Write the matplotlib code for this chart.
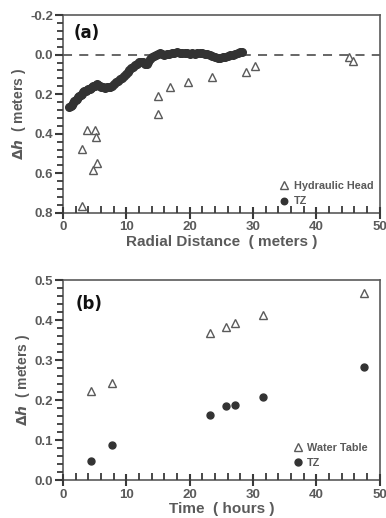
import matplotlib.pyplot as plt
from matplotlib.ticker import MultipleLocator

# panel (a): head change vs radial distance
hh_dist = [3.0, 3.8, 5.0, 5.2, 4.7, 5.3, 3.0, 15.0, 15.0, 16.9, 19.8, 23.5, 28.9, 30.3, 45.2, 45.8]
hh_dh = [0.476, 0.383, 0.383, 0.417, 0.585, 0.548, 0.766, 0.207, 0.300, 0.165, 0.136, 0.114, 0.090, 0.060, 0.010, 0.030]

tz_dist = [1.0, 1.2, 1.4, 1.6, 1.8, 2.0, 2.2, 2.4, 2.6, 2.8, 3.0, 3.2, 3.4, 3.6, 3.8, 4.0,
           4.2, 4.4, 4.6, 4.8, 5.0, 5.2, 5.4, 5.6, 5.8, 6.0, 6.3, 6.6, 6.9, 7.2, 7.5, 7.8,
           8.1, 8.4, 8.7, 9.0, 9.3, 9.6, 9.9, 10.2, 10.5, 10.8, 11.1, 11.4, 11.7, 12.0, 12.3,
           12.6, 12.9, 13.2, 13.5, 13.8, 14.1, 14.4, 14.7, 15.0, 15.3, 15.6, 16.0, 16.4, 16.8,
           17.2, 17.6, 18.0, 18.4, 18.8, 19.2, 19.6, 20.0, 20.4, 20.8, 21.2, 21.6, 22.0, 22.4,
           22.8, 23.2, 23.6, 24.0, 24.4, 24.8, 25.2, 25.6, 26.0, 26.4, 26.8, 27.2, 27.6, 28.0, 28.2]
tz_dh = [0.265, 0.260, 0.255, 0.245, 0.235, 0.228, 0.222, 0.215, 0.210, 0.205, 0.200, 0.190,
         0.185, 0.183, 0.178, 0.175, 0.172, 0.170, 0.165, 0.160, 0.158, 0.152, 0.150, 0.155,
         0.160, 0.163, 0.165, 0.168, 0.165, 0.165, 0.162, 0.158, 0.150, 0.140, 0.132, 0.125,
         0.118, 0.108, 0.100, 0.090, 0.080, 0.070, 0.062, 0.055, 0.045, 0.038, 0.035, 0.038,
         0.045, 0.048, 0.035, 0.020, 0.012, 0.008, 0.000, -0.005, -0.008, -0.005, 0.000,
         -0.002, -0.005, -0.008, -0.010, -0.012, -0.010, -0.008, -0.010, -0.008, -0.005,
         -0.006, -0.004, -0.007, -0.008, -0.006, -0.005, -0.002, 0.002, 0.008, 0.013, 0.016,
         0.016, 0.012, 0.010, 0.006, 0.003, 0.000, -0.004, -0.008, -0.012, -0.014]

# panel (b): head change vs time
time_h = [4.4, 7.8, 23.2, 25.7, 27.2, 31.6, 47.5]
wt_dh = [0.222, 0.243, 0.369, 0.384, 0.392, 0.413, 0.469]
tzb_dh = [0.047, 0.087, 0.163, 0.186, 0.189, 0.207, 0.284]

grey = '#5a5a5a'
tickc = '#3a3a3a'
ink = '#333333'
plt.rcParams['font.family'] = ['Liberation Sans', 'DejaVu Sans']
plt.rcParams['font.weight'] = 'bold'
plt.rcParams['axes.unicode_minus'] = False
plt.rcParams['xtick.bottom'] = True
plt.rcParams['ytick.left'] = True
plt.rcParams['xtick.top'] = False
plt.rcParams['ytick.right'] = False

fig = plt.figure(figsize=(3.86, 5.18), dpi=100)
ax1 = fig.add_axes([0.163, 0.589, 0.821, 0.382])
ax2 = fig.add_axes([0.163, 0.073, 0.821, 0.386])


def style(ax):
    for s in ax.spines.values():
        s.set_color(grey)
        s.set_linewidth(1.2)
        s.set_zorder(0.5)
    ax.xaxis.set_major_locator(MultipleLocator(10))
    ax.xaxis.set_minor_locator(MultipleLocator(2))
    ax.tick_params(axis='x', which='major', direction='inout', length=8, width=1.5,
                   color=tickc, labelcolor=grey, labelsize=9.5, pad=2)
    ax.tick_params(axis='x', which='minor', direction='in', length=5, width=1.3, color=tickc)
    ax.tick_params(axis='y', which='major', direction='out', length=6, width=1.5,
                   color=tickc, labelcolor=grey, labelsize=9.5, pad=1)
    ax.tick_params(axis='y', which='minor', direction='out', length=4, width=1.3, color=tickc)
    for lab in ax.get_xticklabels() + ax.get_yticklabels():
        lab.set_fontweight('bold')


# (a)
ax1.axhline(0, color=grey, ls=(0, (5, 4)), lw=1.3, zorder=1)
ax1.plot(hh_dist, hh_dh, ls='none', marker='^', mfc='white', mec=grey, ms=6, mew=1.0,
         label='Hydraulic Head', zorder=3)
ax1.plot(tz_dist, tz_dh, ls='none', marker='o', color=ink, ms=5.5, label='TZ', zorder=2)
ax1.set_xlim(0, 50)
ax1.set_ylim(0.8, -0.2)
ax1.yaxis.set_major_locator(MultipleLocator(0.2))
ax1.yaxis.set_minor_locator(MultipleLocator(0.04))
style(ax1)
ax1.set_xlabel('Radial Distance  ( meters )', color=grey, fontsize=11, fontweight='bold', labelpad=1)
ax1.set_ylabel(r'$\Delta h$  ( meters )', color=grey, fontsize=10, fontweight='bold', labelpad=2)
ax1.text(0.035, 0.91, '(a)', transform=ax1.transAxes, fontsize=12, fontweight='bold',
         family='DejaVu Sans', color='#111111', va='center')
ax1.legend(loc='lower right', frameon=False, fontsize=7.8, handletextpad=0.3, borderaxespad=0.2,
           labelcolor=grey, handlelength=1.2, labelspacing=0.5, markerscale=0.85)

# (b)
ax2.plot(time_h, wt_dh, ls='none', marker='^', mfc='white', mec=grey, ms=6, mew=1.0,
         label='Water Table')
ax2.plot(time_h, tzb_dh, ls='none', marker='o', color=ink, ms=5, label='TZ')
ax2.set_xlim(0, 50)
ax2.set_ylim(0, 0.5)
ax2.yaxis.set_major_locator(MultipleLocator(0.1))
ax2.yaxis.set_minor_locator(MultipleLocator(0.02))
style(ax2)
ax2.set_xlabel('Time  ( hours )', color=grey, fontsize=11, fontweight='bold', labelpad=1)
ax2.set_ylabel(r'$\Delta h$  ( meters )', color=grey, fontsize=10, fontweight='bold', labelpad=2)
ax2.text(0.04, 0.88, '(b)', transform=ax2.transAxes, fontsize=12, fontweight='bold',
         family='DejaVu Sans', color='#111111', va='center')
ax2.legend(loc='lower right', frameon=False, fontsize=7.8, handletextpad=0.3, borderaxespad=0.7,
           labelcolor=grey, handlelength=1.2, labelspacing=0.5)

fig.savefig('out.png', dpi=100, facecolor='white')
